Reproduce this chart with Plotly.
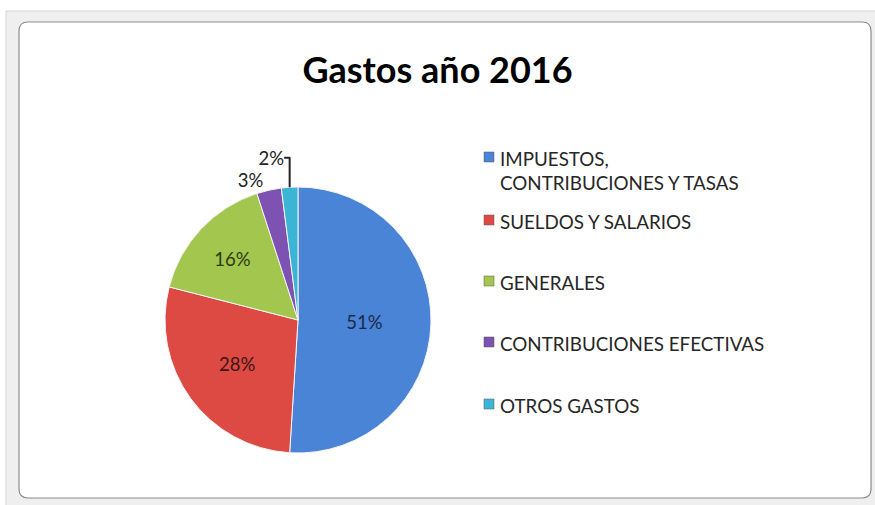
import plotly.graph_objects as go

etiquetas = [
    "IMPUESTOS,<br>CONTRIBUCIONES Y TASAS",
    "SUELDOS Y SALARIOS",
    "GENERALES",
    "CONTRIBUCIONES EFECTIVAS",
    "OTROS GASTOS",
]
porcentajes = [51, 28, 16, 3, 2]
colores = ["#4a84d6", "#dd4a44", "#a2c64e", "#7e52b2", "#3cb4d6"]
colores_texto = ["#1c2a48", "#3a1614", "#2c3a12", "#222222", "#222222"]
posiciones = ["inside", "inside", "inside", "outside", "outside"]

W, H = 875, 505
FUENTE = "Lato, Open Sans, sans-serif"


def px_x(x):
    return x / W


def px_y(y):
    return 1 - y / H


fig = go.Figure()
fig.add_trace(go.Pie(
    labels=etiquetas,
    values=porcentajes,
    sort=False,
    direction="clockwise",
    rotation=0,
    marker=dict(colors=colores, line=dict(color="#f4f4f4", width=1)),
    texttemplate="%{value}%",
    textposition=posiciones,
    insidetextorientation="horizontal",
    textfont=dict(family=FUENTE, size=18.5, color=colores_texto),
    outsidetextfont=dict(family=FUENTE, size=18.5, color="#222222"),
    domain=dict(x=[px_x(165), px_x(431)], y=[px_y(453), px_y(187)]),
    showlegend=False,
    automargin=False,
))

# marco tipo Excel
fig.add_shape(type="rect", xref="paper", yref="paper",
              x0=px_x(6), x1=px_x(880), y0=px_y(510), y1=px_y(11),
              fillcolor="#efefef", line=dict(color="#d6d6d6", width=1), layer="below")
r = 9
x0, x1, y0, y1 = 19, 871, 22, 498
camino = (
    f"M {x0 + r} {y0} L {x1 - r} {y0} Q {x1} {y0} {x1} {y0 + r} "
    f"L {x1} {y1 - r} Q {x1} {y1} {x1 - r} {y1} L {x0 + r} {y1} "
    f"Q {x0} {y1} {x0} {y1 - r} L {x0} {y0 + r} Q {x0} {y0} {x0 + r} {y0} Z"
)
fig.add_shape(type="path", xref="x", yref="y", path=camino,
              fillcolor="#ffffff", line=dict(color="#8c8c8c", width=1.2), layer="below")

# leyenda manual
filas = [157, 220, 281, 342, 404]
for etq, col, fy in zip(etiquetas, colores, filas):
    fig.add_shape(type="rect", xref="x", yref="y",
                  x0=484, x1=494, y0=fy - 5, y1=fy + 5,
                  fillcolor=col, line=dict(color="#555555", width=0.5))
    fig.add_annotation(x=498, y=fy - 12, xref="x", yref="y", text=etq,
                       showarrow=False, xanchor="left", yanchor="top", align="left",
                       font=dict(family=FUENTE, size=18.8, color="#262626"))

fig.update_layout(
    width=W,
    height=H,
    margin=dict(l=0, r=0, t=0, b=0),
    paper_bgcolor="#ffffff",
    plot_bgcolor="rgba(0,0,0,0)",
    title=dict(text="<b>Gastos año 2016</b>", x=0.5, xanchor="center",
               y=px_y(70), yanchor="middle",
               font=dict(family=FUENTE, size=36, color="#000000")),
    xaxis=dict(range=[0, W], visible=False, fixedrange=True),
    yaxis=dict(range=[H, 0], visible=False, fixedrange=True),
)

fig.write_html("out.html", config={"displayModeBar": False},
               post_script="document.body.style.margin='0px';")
